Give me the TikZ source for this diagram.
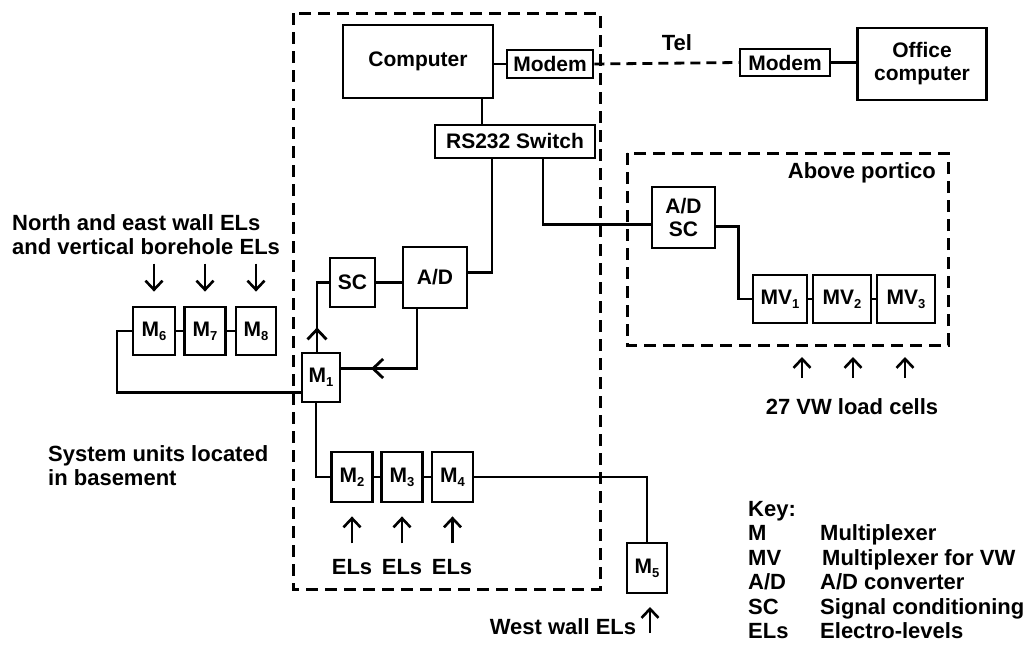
\documentclass[tikz,border=0pt]{standalone}
\usepackage{fontspec}
\setmainfont{Liberation Sans}
\usetikzlibrary{arrows.meta,decorations.markings}
\newcommand{\lidx}[1]{\raisebox{-4pt}{\fontsize{13}{13}\selectfont #1}}
\begin{document}
\begin{tikzpicture}[x=1pt,y=-1pt,
  box/.style={draw, line width=2.8pt, inner sep=0pt, font=\fontsize{21}{23}\selectfont\bfseries, align=center},
  wire/.style={line width=2.8pt},
  dbox/.style={line width=3pt, dash pattern=on 12pt off 7pt},
  lbl/.style={font=\fontsize{22}{24}\selectfont\bfseries, inner sep=0pt},
  inarrow/.style={line width=2.6pt, -{Straight Barb[length=9pt,width=17pt]}},
  midarrow/.style={postaction={decorate}, decoration={markings, mark=at position #1 with {\arrow{Straight Barb[length=10pt,width=19pt]}}}}]
\fill[white] (0,0) rectangle (1024,645);
\useasboundingbox (0,0) rectangle (1024,645);

% dashed enclosures
\draw[dbox] (293,13) rectangle (600,589);
\draw[dbox] (627,153) rectangle (948,345);

% boxes
\node[box, minimum width=150pt, minimum height=73pt] (comp) at (418,61.5) {Computer};
\node[box, minimum width=86pt, minimum height=28pt] (modem1) at (550,64) {Modem};
\node[box, minimum width=160pt, minimum height=33pt] (rs) at (515,141.5) {RS232 Switch};
\node[box, minimum width=64pt, minimum height=61pt] (ad) at (435,277.5) {A/D};
\node[box, minimum width=45pt, minimum height=49pt] (sc) at (352.5,282.5) {SC};
\node[box, minimum width=38pt, minimum height=49pt] (m1) at (321,377.5) {M\lidx{1}};
\node[box, minimum width=42pt, minimum height=48pt] (m6) at (154,331) {M\lidx{6}};
\node[box, minimum width=41pt, minimum height=48pt] (m7) at (205,331) {M\lidx{7}};
\node[box, minimum width=40pt, minimum height=48pt] (m8) at (256,331) {M\lidx{8}};
\node[box, minimum width=41pt, minimum height=50pt] (m2) at (352,477) {M\lidx{2}};
\node[box, minimum width=41pt, minimum height=50pt] (m3) at (402,477) {M\lidx{3}};
\node[box, minimum width=41pt, minimum height=50pt] (m4) at (452.5,477) {M\lidx{4}};
\node[box, minimum width=40pt, minimum height=50pt] (m5) at (647,568) {M\lidx{5}};
\node[box, minimum width=90pt, minimum height=27pt] (modem2) at (785,62.5) {Modem};
\node[box, minimum width=129pt, minimum height=72pt] (office) at (922,64) {Office\\computer};
\node[box, minimum width=63pt, minimum height=61pt] (adsc) at (683.5,217.5) {A/D\\SC};
\node[box, minimum width=54pt, minimum height=48pt] (mv1) at (780,299) {MV\lidx{1}};
\node[box, minimum width=58pt, minimum height=48pt] (mv2) at (842,299) {MV\lidx{2}};
\node[box, minimum width=58pt, minimum height=48pt] (mv3) at (906,299) {MV\lidx{3}};

% connectors
\draw[wire] (comp.east |- modem1.west) -- (modem1.west);
\draw[wire, dash pattern=on 10pt off 6pt] (modem1.east) -- (modem2.west);
\draw[wire] (modem2.east) -- (modem2.east -| office.west);
\draw[wire] (482,0 |- comp.south) -- (482,0 |- rs.north);
\draw[wire] (492,0 |- rs.south) |- ([yshift=5pt]ad.east);
\draw[wire] (543,0 |- rs.south) |- ([yshift=-7pt]adsc.west);
\draw[wire] ([yshift=-9pt]adsc.east) -- ++(22,0) |- (mv1.west);
\draw[wire] (mv1.east) -- (mv2.west);
\draw[wire] (mv2.east) -- (mv3.west);
\draw[wire] (sc.east) -- (sc.east -| ad.west);
\draw[wire, midarrow=0.3] ([xshift=-4pt]m1.north) |- (sc.west);
\draw[wire, midarrow=0.78] ([xshift=-18pt]ad.south) |- ([yshift=9pt]m1.east);
\draw[wire] ([yshift=-15pt]m1.west) -| (117,0 |- m6.west) -- (m6.west);
\draw[wire] (m6.east) -- (m7.west);
\draw[wire] (m7.east) -- (m8.west);
\draw[wire] ([xshift=-5pt]m1.south) |- (m2.west);
\draw[wire] (m2.east) -- (m3.west);
\draw[wire] (m3.east) -- (m4.west);
\draw[wire] (m4.east) -| (m5.north);

% input arrows
\draw[inarrow] (m6.north) ++(0,-42) -- ++(0,28);
\draw[inarrow] (m7.north) ++(0,-42) -- ++(0,28);
\draw[inarrow] (m8.north) ++(0,-42) -- ++(0,28);
\draw[inarrow] (m2.south) ++(0,40) -- ++(0,-27);
\draw[inarrow] (m3.south) ++(0,40) -- ++(0,-27);
\draw[inarrow] (m4.south) ++(0,40) -- ++(0,-27);
\draw[inarrow] (802,378) -- (802,357);
\draw[inarrow] (853,378) -- (853,357);
\draw[inarrow] (905,378) -- (905,357);
\draw[inarrow] (650,633) -- (650,607);

% labels
\node[lbl, align=left, anchor=west] (northlbl) at (12,235) {North and east wall ELs\\and vertical borehole ELs};
\node[lbl, align=left, anchor=west] (syslbl) at (48,466) {System units located\\in basement};
\node[lbl] (tel) at (677,43) {Tel};
\node[lbl, anchor=east] (portico) at (936,173) {Above portico};
\node[lbl] (vw) at (852,407) {27 VW load cells};
\node[lbl] (els2) at (352,567) {ELs};
\node[lbl] (els3) at (402,567) {ELs};
\node[lbl] (els4) at (452,567) {ELs};
\node[lbl] (west) at (563,627) {West wall ELs};

% key
\node[lbl, anchor=base west] (key) at (748,516) {Key:};
\node[lbl, anchor=base west] (k1a) at (748,540) {M};
\node[lbl, anchor=base west] (k1b) at (820,540) {Multiplexer};
\node[lbl, anchor=base west] (k2a) at (748,565) {MV};
\node[lbl, anchor=base west] (k2b) at (822,565) {Multiplexer for VW};
\node[lbl, anchor=base west] (k3a) at (748,589) {A/D};
\node[lbl, anchor=base west] (k3b) at (820,589) {A/D converter};
\node[lbl, anchor=base west] (k4a) at (748,614) {SC};
\node[lbl, anchor=base west] (k4b) at (820,614) {Signal conditioning};
\node[lbl, anchor=base west] (k5a) at (748,638) {ELs};
\node[lbl, anchor=base west] (k5b) at (820,638) {Electro-levels};
\end{tikzpicture}
\end{document}
